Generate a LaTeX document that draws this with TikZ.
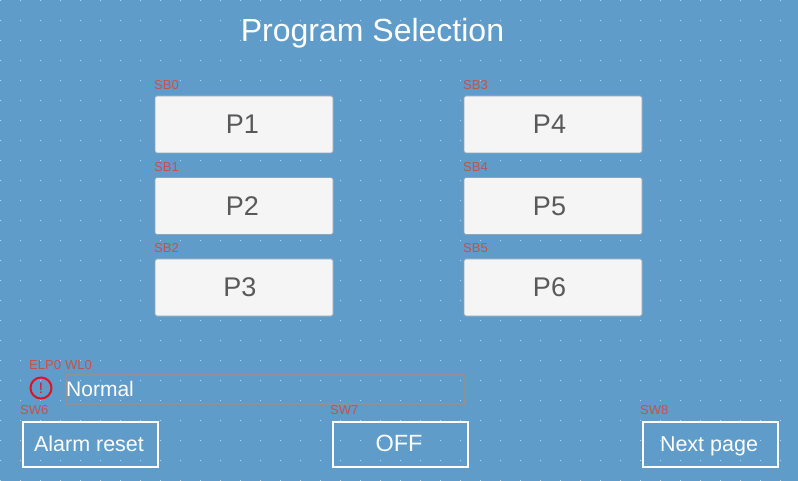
\documentclass[tikz,border=0pt]{standalone}
\usepackage{fontspec}
\setmainfont{Liberation Sans}
\usetikzlibrary{positioning}
\definecolor{panelblue}{HTML}{5F9CC9}
\definecolor{griddot}{HTML}{B4D6EC}
\definecolor{tagred}{HTML}{C4524C}
\definecolor{alarmred}{HTML}{E4102A}
\definecolor{capgrey}{HTML}{595959}
\definecolor{keyface}{HTML}{F5F5F5}
\definecolor{keyedge}{HTML}{8FA6BA}
\definecolor{wlgrey}{HTML}{8E9198}
\tikzset{
  progkey/.style={rectangle,rounded corners=1.5pt,draw=keyedge,line width=.8pt,fill=keyface,
    text=capgrey,minimum width=178pt,minimum height=57pt,inner sep=0pt,font=\fontsize{27}{27}\selectfont},
  softkey/.style={rectangle,draw=white,line width=2.2pt,text=white,minimum width=135pt,
    minimum height=45pt,inner sep=0pt,text height=15pt,text depth=2pt,font=\fontsize{21.5}{22}\selectfont},
  tag/.style={anchor=west,inner sep=0pt,text=tagred,font=\fontsize{13}{13}\selectfont}
}
\begin{document}
\begin{tikzpicture}[%
    x=1pt,y=-1pt,
    node distance=81.5pt,
    on grid
  ]
  \useasboundingbox (0,0) rectangle (798,481);
  \fill[panelblue] (0,0) rectangle (798,481);
  \foreach \gx in {0,20,...,780}
    \foreach \gy in {0,20,...,480}
      \fill[griddot] (\gx,\gy) rectangle +(1,1);

  \node[text=white,font=\fontsize{32}{32}\selectfont] (title) at (372.5,33) {Program Selection};

  \node[progkey] (p1) at (244,124.5) {\kern-3pt P1};
  \node[progkey] (p2) [below of=p1] {\kern-3pt P2};
  \node[progkey] (p3) [below of=p2] {\kern-8pt P3};
  \node[progkey] (p4) at (553,124.5) {\kern-7pt P4};
  \node[progkey] (p5) [below of=p4] {\kern-7pt P5};
  \node[progkey] (p6) [below of=p5] {\kern-7pt P6};

  \node[tag] (sb0) at (154,85.5) {SB0};
  \node[tag] (sb1) at (154,167.5) {SB1};
  \node[tag] (sb2) at (154,248.5) {SB2};
  \node[tag] (sb3) at (463,85.5) {SB3};
  \node[tag] (sb4) at (463,167.5) {SB4};
  \node[tag] (sb5) at (463,248.5) {SB5};

  \node[tag] (elp0) at (29,365.5) {ELP0};
  \node[tag] (wl0) at (65,365.5) {WL0};
  \node[circle,draw=alarmred,line width=2pt,minimum size=21pt,inner sep=0pt,
    text=alarmred,font=\fontsize{15}{15}\selectfont] (alarm) at (41,388) {!};
  \node[rectangle,draw=wlgrey,line width=1.6pt,minimum width=399pt,minimum height=29pt,
    inner sep=0pt] (wl) at (265.5,389.5) {};
  \node[anchor=west,inner sep=0pt,text=white,font=\fontsize{21}{21}\selectfont] (normal) at (66,389) {Normal};

  \node[tag] (sw6) at (20,410.5) {SW6};
  \node[tag] (sw7) at (330,410.5) {SW7};
  \node[tag] (sw8) at (640,410.5) {SW8};

  \node[softkey] (reset) at (90.5,444.5) {\kern-3pt Alarm reset};
  \node[softkey,font=\fontsize{23.5}{24}\selectfont] (off) at (400.5,444.5) {\kern-3pt OFF};
  \node[softkey] (next) at (710.5,444.5) {\kern-3pt Next page};
\end{tikzpicture}
\end{document}
